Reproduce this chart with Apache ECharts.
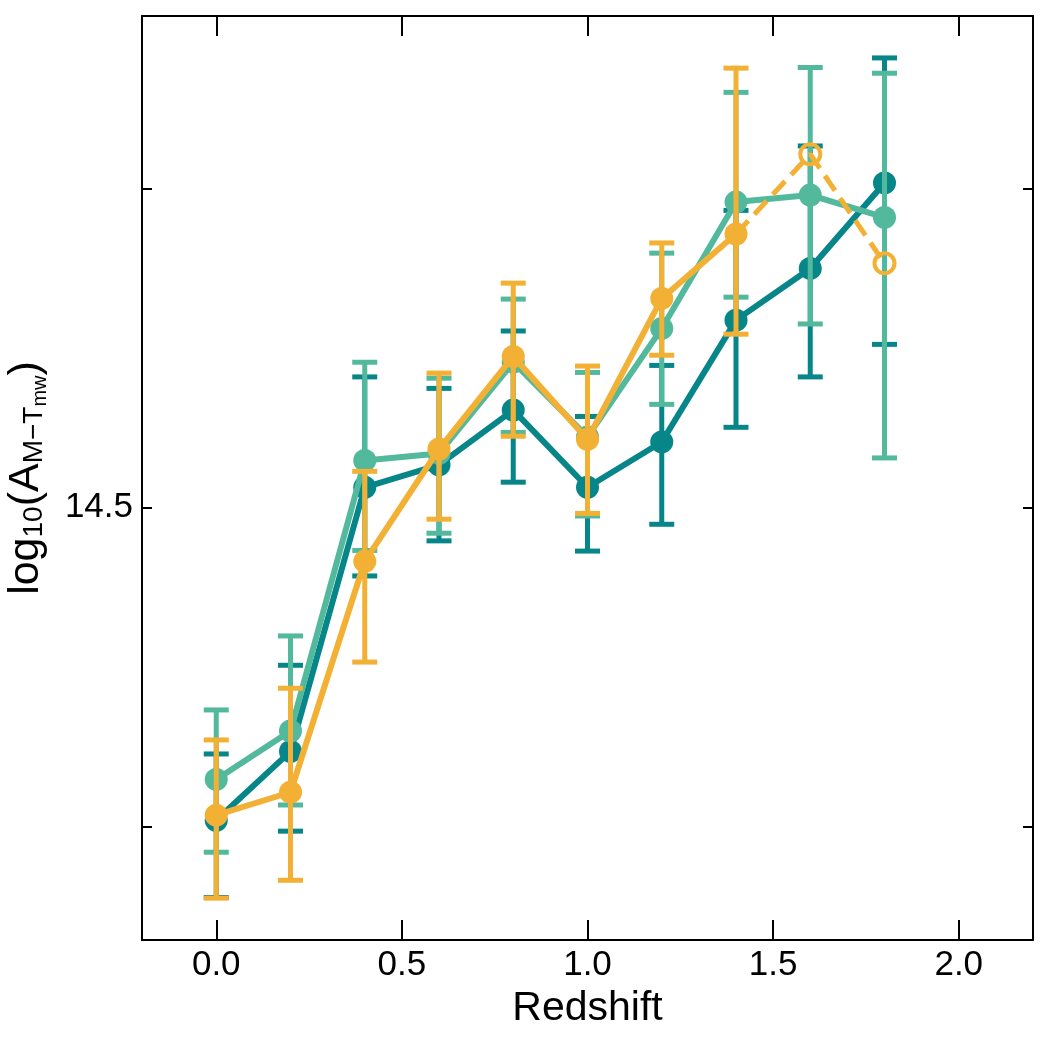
<!DOCTYPE html>
<html>
<head>
<meta charset="utf-8">
<script src="https://cdn.jsdelivr.net/npm/echarts@6/dist/echarts.min.js"></script>
<style>
  html, body { margin: 0; padding: 0; background: #fff; }
  #chart { width: 1050px; height: 1050px; }
</style>
</head>
<body>
<div id="chart"></div>
<script>
// redshift bins
const redshift = [0.0, 0.2, 0.4, 0.6, 0.8, 1.0, 1.2, 1.4, 1.6, 1.8];

// dark teal series: value, lower, upper
const tealDarkY  = [14.010, 14.118, 14.532, 14.567, 14.653, 14.532, 14.603, 14.794, 14.875, 15.009];
const tealDarkLo = [13.889, 13.993, 14.393, 14.448, 14.540, 14.432, 14.474, 14.626, 14.705, 14.756];
const tealDarkHi = [14.114, 14.253, 14.705, 14.687, 14.777, 14.643, 14.723, 14.966, 15.067, 15.205];

// light teal series
const tealLightY  = [14.074, 14.150, 14.574, 14.585, 14.728, 14.611, 14.781, 14.979, 14.990, 14.955];
const tealLightLo = [13.960, 14.034, 14.433, 14.460, 14.618, 14.487, 14.662, 14.830, 14.788, 14.578];
const tealLightHi = [14.183, 14.299, 14.728, 14.703, 14.827, 14.712, 14.899, 15.151, 15.190, 15.181];

// orange series (solid part, with errors)
const orangeX  = [0.0, 0.2, 0.4, 0.6, 0.8, 1.0, 1.2, 1.4];
const orangeY  = [14.018, 14.054, 14.416, 14.592, 14.737, 14.607, 14.828, 14.929];
const orangeLo = [13.888, 13.916, 14.258, 14.482, 14.612, 14.491, 14.739, 14.772];
const orangeHi = [14.136, 14.217, 14.557, 14.711, 14.852, 14.722, 14.915, 15.189];

// orange open points (dashed, no errors)
const orangeOpenX = [1.6, 1.8];
const orangeOpenY = [15.054, 14.883];

// axis ticks
const xTicks = [0.0, 0.5, 1.0, 1.5, 2.0];
const yTicks = [14.0, 14.5, 15.0];
const yLabels = [14.5];

const C_DARK = '#07868a';
const C_LIGHT = '#52b99c';
const C_ORANGE = '#f2b134';
const FONT = '"Liberation Sans", Arial, Helvetica, sans-serif';

function zip(xs, ys) {
  return xs.map((x, i) => [x, ys[i]]);
}

function errorSeries(xs, lo, hi, color, z) {
  return {
    type: 'custom',
    z: z,
    silent: true,
    encode: { x: 0, y: [1, 2] },
    data: xs.map((x, i) => [x, lo[i], hi[i]]),
    renderItem: function (params, api) {
      const x = api.value(0);
      const pLo = api.coord([x, api.value(1)]);
      const pHi = api.coord([x, api.value(2)]);
      const half = 12.5;
      const style = { stroke: color, lineWidth: 5, fill: null };
      return {
        type: 'group',
        children: [
          { type: 'line', shape: { x1: pLo[0], y1: pLo[1], x2: pHi[0], y2: pHi[1] }, style: style },
          { type: 'line', shape: { x1: pLo[0] - half, y1: pLo[1], x2: pLo[0] + half, y2: pLo[1] }, style: style },
          { type: 'line', shape: { x1: pHi[0] - half, y1: pHi[1], x2: pHi[0] + half, y2: pHi[1] }, style: style }
        ]
      };
    }
  };
}

function lineSeries(data, color, z) {
  return {
    type: 'line',
    z: z,
    silent: true,
    data: data,
    symbol: 'circle',
    symbolSize: 23,
    showSymbol: true,
    itemStyle: { color: color },
    lineStyle: { color: color, width: 6 },
    emphasis: { disabled: true }
  };
}

const xRange = { min: -0.2, max: 2.2 };
const yRange = { min: 13.8224, max: 15.2707 };
const frame = { show: true, onZero: false, lineStyle: { color: '#000', width: 2 } };

const chart = echarts.init(document.getElementById('chart'));

// dashed tail starts from last solid orange point
const dashedData = [[orangeX[orangeX.length - 1], orangeY[orangeY.length - 1]]].concat(zip(orangeOpenX, orangeOpenY));

chart.setOption({
  animation: false,
  backgroundColor: '#fff',
  grid: { left: 142, right: 17, top: 16, bottom: 110, containLabel: false, outerBoundsMode: 'none' },
  xAxis: [
    {
      type: 'value', position: 'bottom', ...xRange,
      name: 'Redshift', nameLocation: 'middle', nameGap: 48,
      nameTextStyle: { fontSize: 41, fontFamily: FONT, color: '#000' },
      axisLine: frame,
      splitLine: { show: false },
      axisTick: { show: true, inside: true, length: 20, customValues: xTicks, lineStyle: { color: '#000', width: 2 } },
      axisLabel: { customValues: xTicks, fontSize: 35, fontFamily: FONT, color: '#000', margin: 8,
        formatter: v => v.toFixed(1) }
    },
    {
      type: 'value', position: 'top', ...xRange,
      axisLine: frame,
      splitLine: { show: false },
      axisTick: { show: true, inside: true, length: 20, customValues: xTicks, lineStyle: { color: '#000', width: 2 } },
      axisLabel: { show: false }
    }
  ],
  yAxis: [
    {
      type: 'value', position: 'left', ...yRange,
      name: '{b|log}{s|10}{b|(A}{s|M\u2212T}{ss|mw}{b|)}',
      nameLocation: 'middle', nameGap: 92, nameRotate: 90,
      nameTextStyle: {
        fontFamily: FONT, color: '#000', fontSize: 43,
        rich: {
          b: { fontSize: 43, fontFamily: FONT, color: '#000' },
          s: { fontSize: 28, fontFamily: FONT, color: '#000', padding: [16, 0, 0, 0] },
          ss: { fontSize: 20, fontFamily: FONT, color: '#000', padding: [28, 0, 0, 0] }
        }
      },
      axisLine: frame,
      splitLine: { show: false },
      axisTick: { show: true, inside: true, length: 10, customValues: yTicks, lineStyle: { color: '#000', width: 2 } },
      axisLabel: { customValues: yLabels, fontSize: 35, fontFamily: FONT, color: '#000', margin: 9,
        formatter: v => v.toFixed(1) }
    },
    {
      type: 'value', position: 'right', ...yRange,
      axisLine: frame,
      splitLine: { show: false },
      axisTick: { show: true, inside: true, length: 10, customValues: yTicks, lineStyle: { color: '#000', width: 2 } },
      axisLabel: { show: false }
    }
  ],
  series: [
    errorSeries(redshift, tealDarkLo, tealDarkHi, C_DARK, 2),
    lineSeries(zip(redshift, tealDarkY), C_DARK, 3),
    errorSeries(redshift, tealLightLo, tealLightHi, C_LIGHT, 4),
    lineSeries(zip(redshift, tealLightY), C_LIGHT, 5),
    errorSeries(orangeX, orangeLo, orangeHi, C_ORANGE, 6),
    lineSeries(zip(orangeX, orangeY), C_ORANGE, 7),
    {
      type: 'line',
      z: 7,
      silent: true,
      data: dashedData,
      symbol: (v, p) => (p.dataIndex === 0 ? 'none' : 'circle'),
      symbolSize: 20,
      showSymbol: true,
      itemStyle: { color: 'rgba(0,0,0,0)', borderColor: C_ORANGE, borderWidth: 4 },
      lineStyle: { color: C_ORANGE, width: 5, type: [18, 9] },
      emphasis: { disabled: true }
    }
  ]
});
</script>
</body>
</html>
